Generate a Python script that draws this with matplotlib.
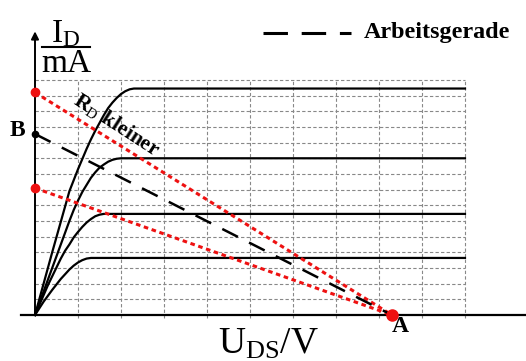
import matplotlib
matplotlib.use("Agg")
import matplotlib.pyplot as plt

plt.rcParams['font.family'] = ['Liberation Serif', 'DejaVu Serif']
plt.rcParams['mathtext.fontset'] = 'custom'
plt.rcParams['mathtext.rm'] = 'Liberation Serif'
plt.rcParams['mathtext.bf'] = 'Liberation Serif:bold'

# output characteristic curves (U_DS in grid units, I_D in grid units)
c1_x = [0, 0.2, 0.4, 0.6, 0.8, 0.9, 1.0, 1.1, 1.2, 1.3, 1.4, 1.5, 1.6, 1.7, 1.8, 1.9, 2.0, 2.1, 2.2, 2.3, 10]
c1_y = [0, 2.0, 4.0, 5.95, 7.9, 8.6, 9.3, 9.95, 10.6, 11.2, 11.75, 12.25, 12.75, 13.2, 13.55, 13.85, 14.1, 14.28, 14.4, 14.45, 14.45]
c2_x = [0, 0.4, 0.8, 0.9, 1.0, 1.1, 1.2, 1.3, 1.4, 1.5, 1.6, 1.7, 1.8, 1.9, 2.0, 10]
c2_y = [0, 3.0, 6.0, 6.7, 7.3, 7.85, 8.3, 8.75, 9.1, 9.4, 9.6, 9.78, 9.9, 9.97, 10.0, 10.0]
c3_x = [0, 0.3, 0.6, 0.7, 0.8, 0.9, 1.0, 1.1, 1.2, 1.3, 1.4, 1.5, 1.6, 10]
c3_y = [0, 1.9, 3.6, 4.1, 4.5, 4.95, 5.3, 5.62, 5.9, 6.12, 6.3, 6.4, 6.45, 6.45]
c4_x = [0, 0.2, 0.4, 0.6, 0.7, 0.8, 0.9, 1.0, 1.1, 1.2, 1.3, 10]
c4_y = [0, 0.85, 1.6, 2.3, 2.6, 2.9, 3.15, 3.35, 3.5, 3.6, 3.64, 3.64]
curves = [(c1_x, c1_y), (c2_x, c2_y), (c3_x, c3_y), (c4_x, c4_y)]

# load lines: start on the I_D axis, all end at A
a_x = 8.3
red_starts = [14.2, 8.1]
b_start = 11.55

n_cols = 10
n_rows = 15

fig = plt.figure(figsize=(5.26, 3.61), dpi=100)
ax = fig.add_axes([0, 0, 1, 1])
ax.set_xlim(-0.814, 11.419)
ax.set_ylim(-2.936, 20.10)
ax.axis('off')

# grid
for i in range(1, n_cols + 1):
    ax.plot([i, i], [-0.2, n_rows], color='#888888', lw=0.8, ls=(0, (3, 2)), zorder=1)
for j in range(1, n_rows + 1):
    ax.plot([0, n_cols], [j, j], color='#888888', lw=0.8, ls=(0, (3, 2)), zorder=1)

# axes
ax.plot([-0.33, 11.42], [0, 0], color='k', lw=1.6, zorder=3)
ax.annotate('', xy=(0, 18.1), xytext=(0, 0),
            arrowprops=dict(arrowstyle='-|>', lw=1.4, color='k', mutation_scale=11,
                            shrinkA=0, shrinkB=0), zorder=3)

for cx, cy in curves:
    ax.plot(cx, cy, color='k', lw=1.6, solid_joinstyle='round', zorder=4)

# load lines
for s in red_starts:
    ax.plot([0, a_x], [s, 0], color='#ee1111', lw=2.2, ls=(0, (1.5, 1.2)), zorder=5)
    ax.plot([0], [s], 'o', color='#ee1111', ms=6, zorder=6)
ax.plot([0, a_x], [b_start, 0], color='k', lw=1.8, ls=(0, (7, 5)), zorder=5)
ax.plot([0], [b_start], 'o', color='k', ms=4.5, zorder=6)
ax.plot([a_x], [0], 'o', color='#ee1111', ms=8, zorder=6)

# labels
ax.text(-0.4, 11.8, 'B', fontsize=17, fontweight='bold', ha='center', va='center')
ax.text(8.5, -0.75, 'A', fontsize=17, fontweight='bold', ha='center', va='center')
ax.text(1.9, 12.1, r'$\mathbf{R}_{\mathrm{D}}$ kleiner', fontsize=15.5, fontweight='bold',
        rotation=-33, rotation_mode='anchor', ha='center', va='center')

ax.text(0.72, 17.4, r'$\mathrm{I_D}$', fontsize=24, ha='center', va='baseline')
ax.plot([0.16, 1.28], [17.1, 17.1], color='k', lw=1.5)
ax.text(0.72, 15.5, 'mA', fontsize=24, ha='center', va='baseline')
ax.text(5.42, -2.49, r'$\mathrm{U_{DS}/V}$', fontsize=27, ha='center', va='baseline')

# legend
ax.plot([5.3, 7.35], [18.0, 18.0], color='k', lw=2.2, ls=(0, (8, 4.5)))
ax.text(7.65, 18.0, 'Arbeitsgerade', fontsize=17.4, fontweight='bold', ha='left', va='center')

fig.savefig('out.png', dpi=100)
